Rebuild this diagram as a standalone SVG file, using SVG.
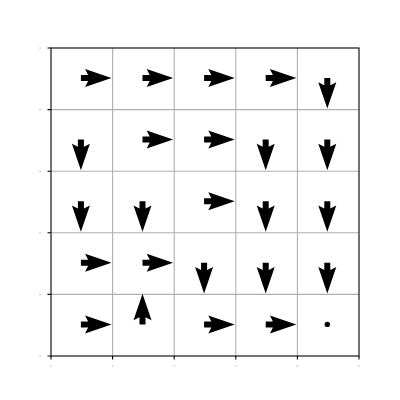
<svg xmlns="http://www.w3.org/2000/svg" xmlns:xlink="http://www.w3.org/1999/xlink" width="400" height="400" viewBox="0 0 400 400">
<style>
.grid{stroke:#b0b0b0;stroke-width:1.1;fill:none}
.spine{stroke:#000;stroke-width:1.1;fill:none}
.tick{stroke:#000;stroke-width:1.1}
.lbl{fill:#888}
</style>
<defs>
<path id="arr" d="M0,-3 L7.2,-3 L4.2,-9 L30.6,0 L4.2,9 L7.2,3 L0,3 Z" fill="#000"/>
</defs>
<rect width="400" height="400" fill="#fff"/>
<g id="grid">
<path class="grid" d="M112.6,48V356M174.2,48V356M235.8,48V356M297.4,48V356M51,109.6H359M51,171.2H359M51,232.8H359M51,294.4H359"/>
</g>
<g id="arrows" transform="translate(-0.9,-0.8)">
<g id="r0">
<use xlink:href="#arr" transform="translate(81.8,78.8)"/>
<use xlink:href="#arr" transform="translate(143.4,78.8)"/>
<use xlink:href="#arr" transform="translate(205,78.8)"/>
<use xlink:href="#arr" transform="translate(266.6,78.8)"/>
<use xlink:href="#arr" transform="translate(328.2,78.8) rotate(90)"/>
</g>
<g id="r1">
<use xlink:href="#arr" transform="translate(81.8,140.4) rotate(90)"/>
<use xlink:href="#arr" transform="translate(143.4,140.4)"/>
<use xlink:href="#arr" transform="translate(205,140.4)"/>
<use xlink:href="#arr" transform="translate(266.6,140.4) rotate(90)"/>
<use xlink:href="#arr" transform="translate(328.2,140.4) rotate(90)"/>
</g>
<g id="r2">
<use xlink:href="#arr" transform="translate(81.8,202) rotate(90)"/>
<use xlink:href="#arr" transform="translate(143.4,202) rotate(90)"/>
<use xlink:href="#arr" transform="translate(205,202)"/>
<use xlink:href="#arr" transform="translate(266.6,202) rotate(90)"/>
<use xlink:href="#arr" transform="translate(328.2,202) rotate(90)"/>
</g>
<g id="r3">
<use xlink:href="#arr" transform="translate(81.8,263.6)"/>
<use xlink:href="#arr" transform="translate(143.4,263.6)"/>
<use xlink:href="#arr" transform="translate(205,263.6) rotate(90)"/>
<use xlink:href="#arr" transform="translate(266.6,263.6) rotate(90)"/>
<use xlink:href="#arr" transform="translate(328.2,263.6) rotate(90)"/>
</g>
<g id="r4">
<use xlink:href="#arr" transform="translate(81.8,325.2)"/>
<use xlink:href="#arr" transform="translate(143.4,325.2) rotate(-90)"/>
<use xlink:href="#arr" transform="translate(205,325.2)"/>
<use xlink:href="#arr" transform="translate(266.6,325.2)"/>
<circle cx="328.2" cy="325.2" r="2.7" fill="#000"/>
</g>
</g>
<g id="axes">
<rect class="spine" x="51" y="48" width="308" height="308"/>
<path class="tick" d="M51,356v3.5M112.6,356v3.5M174.2,356v3.5M235.8,356v3.5M297.4,356v3.5M359,356v3.5M51,48h-3.5M51,109.6h-3.5M51,171.2h-3.5M51,232.8h-3.5M51,294.4h-3.5M51,356h-3.5"/>
<g class="lbl">
<circle cx="51" cy="366" r="0.6"/><circle cx="112.6" cy="366" r="0.6"/><circle cx="174.2" cy="366" r="0.6"/><circle cx="235.8" cy="366" r="0.6"/><circle cx="297.4" cy="366" r="0.6"/><circle cx="359" cy="366" r="0.6"/>
<circle cx="40" cy="48" r="0.6"/><circle cx="40" cy="109.6" r="0.6"/><circle cx="40" cy="171.2" r="0.6"/><circle cx="40" cy="232.8" r="0.6"/><circle cx="40" cy="294.4" r="0.6"/><circle cx="40" cy="356" r="0.6"/>
</g>
</g>
</svg>
